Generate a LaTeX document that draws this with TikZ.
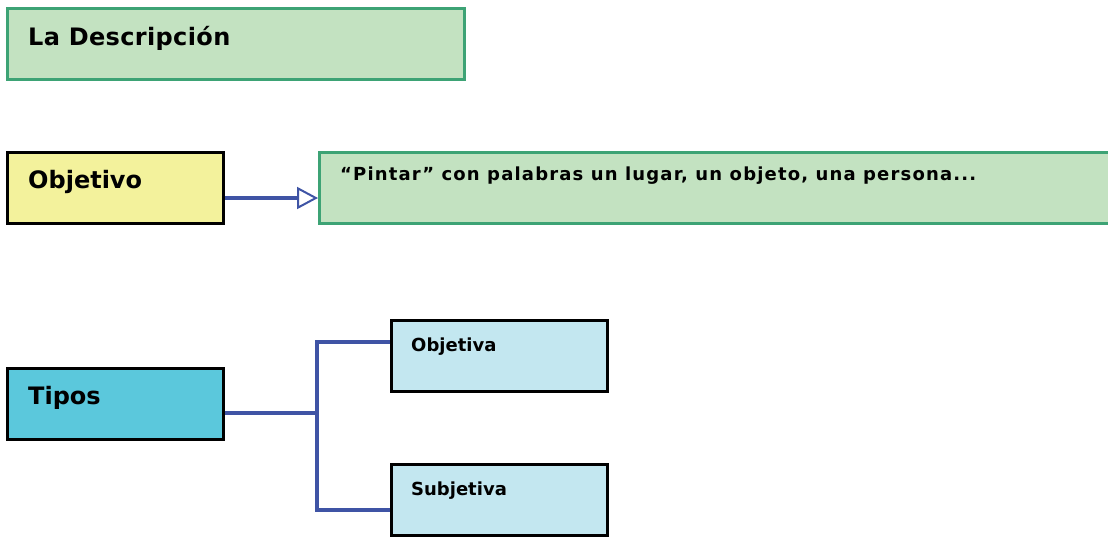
\documentclass[tikz,border=0pt]{standalone}
\usepackage{fontspec}
\setmainfont{DejaVu Sans}
\usetikzlibrary{arrows.meta,calc}
\definecolor{boxgreen}{HTML}{C3E2C1}
\definecolor{edgegreen}{HTML}{3DA375}
\definecolor{boxyellow}{HTML}{F3F29C}
\definecolor{boxcyan}{HTML}{5BC8DC}
\definecolor{boxlight}{HTML}{C3E7F0}
\definecolor{linkblue}{HTML}{3F54A5}
\tikzset{
  card/.style={draw, line width=2.5pt, inner sep=0pt, anchor=north west},
  greencard/.style={card, draw=edgegreen, fill=boxgreen},
  blackcard/.style={card, draw=black},
  lbl/.style={anchor=base west, inner sep=0pt, font=\bfseries},
  link/.style={draw=linkblue, line width=4.5pt},
}
\begin{document}
\begin{tikzpicture}[x=1pt,y=-1pt]
\useasboundingbox (0,0) rectangle (1108,536);
% boxes
\node[greencard, minimum width=457pt, minimum height=71pt] (title) at (6,7) {};
\node[blackcard, fill=boxyellow, minimum width=216pt, minimum height=71pt] (obj) at (6,151) {};
\node[greencard, minimum width=795pt, minimum height=71pt] (desc) at (318,151) {};
\node[blackcard, fill=boxcyan, minimum width=216pt, minimum height=71pt] (tipos) at (6,367) {};
\node[blackcard, fill=boxlight, minimum width=216pt, minimum height=71pt] (objv) at (390,319) {};
\node[blackcard, fill=boxlight, minimum width=216pt, minimum height=71pt] (subj) at (390,463) {};
% texts
\node[lbl, font=\bfseries\fontsize{24}{28}\selectfont\addfontfeatures{LetterSpace=1.5}] (titletext) at (28,45) {La Descripción};
\node[lbl, font=\bfseries\fontsize{24}{28}\selectfont] (objtext) at (28,188) {Objetivo};
\node[lbl, font=\bfseries\fontsize{18}{22}\selectfont\addfontfeatures{LetterSpace=6.5}] (desctext) at (340,180) {“Pintar” con palabras un lugar, un objeto, una persona...};
\node[lbl, font=\bfseries\fontsize{24}{28}\selectfont] (tipostext) at (28,404) {Tipos};
\node[lbl, font=\bfseries\fontsize{18}{22}\selectfont] (objvtext) at (411,351) {Objetiva};
\node[lbl, font=\bfseries\fontsize{18}{22}\selectfont] (subjtext) at (411,495) {Subjetiva};
% connectors
\draw[link, -{Triangle[open, length=21pt, width=22pt, line width=2pt]}] (obj.east |- 0,198) -- (desc.west |- 0,198);
\coordinate (fork) at (317,413);
\draw[link] (tipos.east |- fork) -- (fork);
\draw[link] (objv.west |- 0,342) -- (fork |- 0,342) -- (fork |- 0,510) -- (subj.west |- 0,510);
\end{tikzpicture}
\end{document}
